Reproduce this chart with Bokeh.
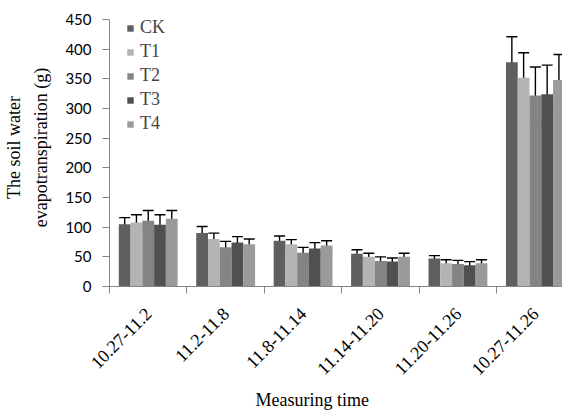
from bokeh.plotting import figure
from bokeh.models import (ColumnDataSource, Range1d, FixedTicker, Whisker, TeeHead,
                          Legend, LegendItem, Title)
from bokeh.embed import file_html
from bokeh.resources import INLINE
import math

categories = ["10.27-11.2", "11.2-11.8", "11.8-11.14", "11.14-11.20", "11.20-11.26", "10.27-11.26"]
series = ["CK", "T1", "T2", "T3", "T4"]
CK = [105, 90, 77, 55, 47, 378]
T1 = [108, 80, 71, 50, 39, 352]
T2 = [111, 66, 57, 43, 38, 322]
T3 = [104, 74, 64, 42, 36, 324]
T4 = [114, 71, 69, 50, 39, 348]
CK_err = [11, 11, 8, 7, 5, 43]
T1_err = [13, 10, 8, 6, 6, 42]
T2_err = [17, 10, 9, 7, 6, 48]
T3_err = [17, 10, 10, 6, 6, 49]
T4_err = [14, 9, 8, 6, 6, 43]
y_ticks = [0, 50, 100, 150, 200, 250, 300, 350, 400, 450]

values = [CK, T1, T2, T3, T4]
errors = [CK_err, T1_err, T2_err, T3_err, T4_err]
colors = ["#5f5f5f", "#b4b4b4", "#848484", "#505050", "#9a9a9a"]

bar_w = 0.152
group_off = (1 - bar_w * len(series)) / 2

# frame extends a little above the 450 line so the legend is not clipped;
# the axis line itself is bounded to 0..450
p = figure(width=562, height=414, output_backend="svg", toolbar_location=None,
           x_range=Range1d(0, 5.85), y_range=Range1d(0, 468.5),
           min_border_left=109, min_border_right=0, min_border_top=8, min_border_bottom=127)
p.xgrid.visible = False
p.ygrid.visible = False
p.outline_line_color = None
p.background_fill_color = "white"

items = []
for k, (name, vals, errs, col) in enumerate(zip(series, values, errors, colors)):
    xs = [i + group_off + (k + 0.5) * bar_w for i in range(len(categories))]
    src = ColumnDataSource(dict(x=xs, top=vals,
                                upper=[v + e for v, e in zip(vals, errs)],
                                lower=[v - e for v, e in zip(vals, errs)]))
    r = p.vbar(x="x", top="top", bottom=0, width=bar_w, source=src,
               fill_color=col, line_color=None)
    w = Whisker(base="x", upper="upper", lower="lower", source=src,
                line_color="black", line_width=1.4,
                upper_head=TeeHead(size=11, line_color="black", line_width=1.4),
                lower_head=TeeHead(size=11, line_color="black", line_width=1.4))
    p.add_layout(w)
    items.append(LegendItem(label=name, renderers=[r]))

legend = Legend(items=items, location=(17, 152), padding=0, margin=0,
                border_line_color=None, background_fill_alpha=0,
                glyph_width=8, glyph_height=8, label_height=18, spacing=3,
                label_standoff=6,
                label_text_font="Liberation Serif", label_text_font_size="18px")
p.add_layout(legend, "center")

axis_color = "#868686"
xa = p.xaxis[0]
xa.ticker = FixedTicker(ticks=[i + 0.5 for i in range(len(categories))],
                        minor_ticks=list(range(len(categories) + 1)))
xa.major_label_overrides = {i + 0.5: c for i, c in enumerate(categories)}
xa.major_label_orientation = math.pi / 4
xa.major_tick_line_color = None
xa.major_tick_out = 0
xa.major_tick_in = 0
xa.minor_tick_out = 7
xa.minor_tick_in = 0
xa.minor_tick_line_color = axis_color
xa.axis_line_color = axis_color
xa.major_label_standoff = 17
xa.major_label_text_font = "Liberation Serif"
xa.major_label_text_font_size = "18px"
xa.major_label_text_color = "black"

ya = p.yaxis[0]
ya.ticker = FixedTicker(ticks=y_ticks)
ya.bounds = (0, 450)
ya.minor_tick_line_color = None
ya.major_tick_out = 7
ya.major_tick_in = 0
ya.major_tick_line_color = axis_color
ya.axis_line_color = axis_color
ya.major_label_standoff = 11
ya.major_label_text_font = "Lato"
ya.major_label_text_font_size = "15px"
ya.major_label_text_color = "black"
ya.axis_label = "The soil water\nevapotranspiration (g)"
ya.axis_label_text_font = "Liberation Serif"
ya.axis_label_text_font_style = "normal"
ya.axis_label_text_font_size = "18px"
ya.axis_label_text_line_height = 1.35
ya.axis_label_standoff = 11
ya.axis_label_text_color = "black"

xtitle = Title(text="Measuring time", align="left", offset=146, standoff=9,
               text_font="Liberation Serif", text_font_size="18px",
               text_font_style="normal", text_color="black")
p.add_layout(xtitle, "below")

open("out.html", "w").write(file_html(p, INLINE))
